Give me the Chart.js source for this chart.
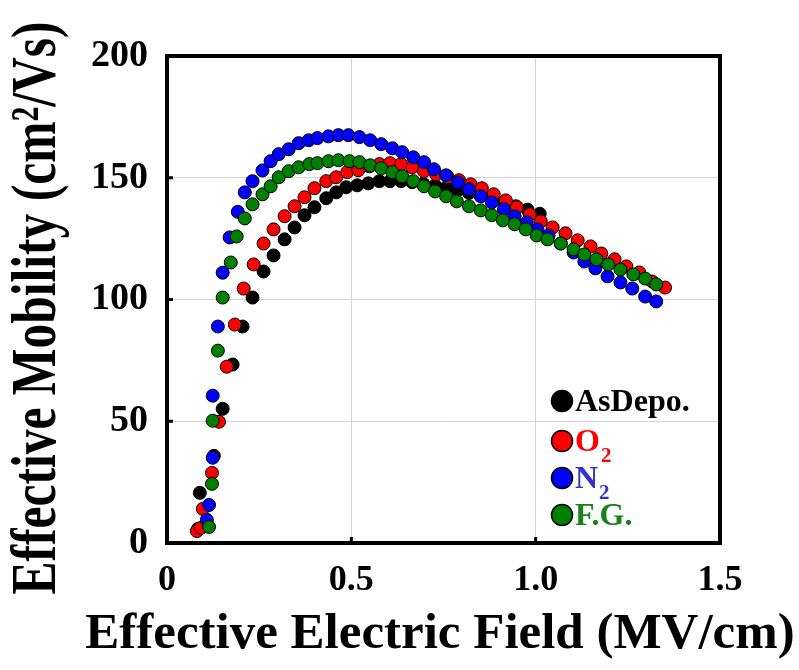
<!DOCTYPE html>
<html>
<head>
<meta charset="utf-8">
<script src="https://cdn.jsdelivr.net/npm/chart.js@4.4.1/dist/chart.umd.min.js"></script>
<style>
  html, body { margin: 0; padding: 0; background: #fff; }
  #wrap { width: 799px; height: 670px; }
</style>
</head>
<body>
<div id="wrap"><canvas id="chart"></canvas></div>
<script>
// effective field (MV/cm) and mobility (cm2/Vs) per anneal condition
var xAsDepo = [0.084, 0.089, 0.127, 0.151, 0.178, 0.205, 0.232, 0.262, 0.289, 0.319, 0.346, 0.373, 0.400, 0.432, 0.459, 0.486, 0.516, 0.546, 0.576, 0.605, 0.635, 0.665, 0.695, 0.727, 0.757, 0.789, 0.819, 0.851, 0.881, 0.914, 0.946, 0.978, 1.011];
var yAsDepo = [5.8, 20.6, 35.8, 55.1, 73.3, 88.9, 100.8, 111.5, 118.1, 124.7, 129.6, 134.6, 137.9, 141.6, 144.0, 146.1, 146.9, 147.7, 148.6, 148.6, 148.6, 148.2, 147.5, 146.8, 145.9, 145.0, 143.8, 142.6, 141.2, 139.8, 138.3, 136.9, 135.2];

var xO2 = [0.081, 0.092, 0.097, 0.122, 0.141, 0.162, 0.184, 0.208, 0.235, 0.262, 0.289, 0.319, 0.346, 0.373, 0.400, 0.432, 0.459, 0.489, 0.519, 0.549, 0.576, 0.605, 0.635, 0.665, 0.697, 0.730, 0.762, 0.792, 0.824, 0.854, 0.886, 0.919, 0.949, 0.984, 1.014, 1.046, 1.081, 1.114, 1.149, 1.178, 1.214, 1.246, 1.281, 1.316, 1.351];
var yO2 = [4.9, 6.2, 14.0, 28.8, 49.8, 72.4, 89.7, 104.5, 114.4, 123.0, 128.8, 134.2, 138.3, 142.0, 145.7, 148.6, 150.2, 152.3, 153.1, 154.7, 155.6, 156.0, 155.6, 154.3, 152.7, 151.4, 150.2, 149.0, 147.3, 145.7, 143.2, 140.7, 137.9, 135.0, 132.1, 129.6, 127.2, 124.3, 121.8, 118.9, 116.5, 113.6, 111.1, 107.4, 104.9];

var xN2 = [0.108, 0.114, 0.124, 0.124, 0.138, 0.151, 0.170, 0.192, 0.211, 0.232, 0.259, 0.281, 0.303, 0.330, 0.357, 0.384, 0.408, 0.438, 0.465, 0.492, 0.522, 0.551, 0.581, 0.611, 0.638, 0.668, 0.697, 0.724, 0.757, 0.789, 0.819, 0.851, 0.881, 0.914, 0.943, 0.976, 1.005, 1.035, 1.068, 1.103, 1.132, 1.162, 1.195, 1.230, 1.262, 1.297, 1.327];
var yN2 = [9.5, 15.6, 35.0, 60.5, 88.9, 111.0, 125.5, 136.0, 144.0, 148.6, 153.0, 156.8, 159.7, 161.7, 164.2, 165.4, 166.3, 167.0, 167.5, 167.5, 166.7, 165.4, 163.8, 162.1, 160.5, 158.4, 156.4, 153.5, 151.0, 148.1, 145.3, 142.4, 139.9, 137.1, 134.2, 131.7, 128.8, 126.3, 123.0, 119.3, 115.6, 112.8, 109.5, 107.0, 104.5, 101.2, 99.2];

var xFG = [0.114, 0.122, 0.124, 0.138, 0.151, 0.173, 0.189, 0.211, 0.232, 0.259, 0.281, 0.303, 0.330, 0.357, 0.386, 0.408, 0.438, 0.465, 0.495, 0.522, 0.551, 0.581, 0.611, 0.638, 0.668, 0.697, 0.727, 0.757, 0.786, 0.819, 0.851, 0.881, 0.911, 0.943, 0.973, 1.003, 1.032, 1.068, 1.103, 1.132, 1.165, 1.197, 1.230, 1.265, 1.297, 1.327];
var yFG = [6.6, 24.3, 50.2, 79.0, 100.8, 115.2, 125.9, 133.3, 139.1, 143.2, 146.5, 150.2, 152.7, 154.3, 155.6, 156.0, 156.8, 157.2, 156.8, 156.4, 155.1, 153.9, 152.3, 150.6, 148.6, 146.5, 144.4, 142.4, 140.3, 138.3, 136.6, 134.6, 132.5, 130.9, 128.8, 126.3, 124.7, 123.0, 120.6, 118.5, 116.5, 114.4, 112.3, 110.3, 108.6, 106.2];

var xTicks = [0, 0.5, 1.0, 1.5];
var yTicks = [0, 50, 100, 150, 200];

var xTitle = 'Effective Electric Field (MV/cm)';
var yTitle = 'Effective Mobility (cm\u00b2/Vs)';

var SERIF = '"Liberation Serif", "Times New Roman", serif';

function pts(xs, ys) {
  return xs.map(function (x, i) { return { x: x, y: ys[i] }; });
}

function series(label, xs, ys, color, order) {
  return {
    label: label,
    data: pts(xs, ys),
    backgroundColor: color,
    borderColor: '#000',
    borderWidth: 1,
    pointRadius: 6.5,
    pointHoverRadius: 6.5,
    showLine: false,
    order: order
  };
}

// legend entries: marker colour, main text, subscript, text colour
var legendItems = [
  { fill: '#000000', text: 'AsDepo.', sub: '', color: '#000000', y: 401 },
  { fill: '#ff0000', text: 'O', sub: '2', color: '#ff0000', y: 441 },
  { fill: '#0000ff', text: 'N', sub: '2', color: '#3333cc', y: 478 },
  { fill: '#008000', text: 'F.G.', sub: '', color: '#1a801a', y: 515 }
];

var framePlugin = {
  id: 'frame',
  afterDatasetsDraw: function (chart) {
    var ctx = chart.ctx, a = chart.chartArea;
    var xs = chart.scales.x, ys = chart.scales.y;
    ctx.save();
    ctx.strokeStyle = '#000';
    // inward tick marks
    ctx.lineWidth = 3;
    ctx.beginPath();
    yTicks.forEach(function (v) {
      var py = ys.getPixelForValue(v);
      ctx.moveTo(a.left, py); ctx.lineTo(a.left + 6, py);
    });
    xTicks.forEach(function (v) {
      var px = xs.getPixelForValue(v);
      ctx.moveTo(px, a.bottom); ctx.lineTo(px, a.bottom - 6);
    });
    ctx.stroke();
    ctx.lineWidth = 4;
    ctx.strokeRect(a.left, a.top, a.right - a.left, a.bottom - a.top);

    // axis titles; the y title is tall and squeezed to its length
    ctx.fillStyle = '#000';
    ctx.textAlign = 'center';
    ctx.textBaseline = 'middle';
    ctx.font = 'bold 51px ' + SERIF;
    ctx.fillText(xTitle, 440, 635);
    ctx.font = 'bold 64px ' + SERIF;
    ctx.save();
    ctx.translate(38, 308);
    ctx.rotate(-Math.PI / 2);
    ctx.fillText(yTitle, 0, 0, 573);
    ctx.restore();

    // legend in the lower right of the plot
    ctx.textBaseline = 'alphabetic';
    ctx.textAlign = 'left';
    legendItems.forEach(function (it) {
      ctx.beginPath();
      ctx.arc(562, it.y, 10.5, 0, Math.PI * 2);
      ctx.fillStyle = it.fill;
      ctx.fill();
      ctx.lineWidth = 1.5;
      ctx.strokeStyle = '#000';
      ctx.stroke();
      ctx.fillStyle = it.color;
      ctx.font = 'bold 32px ' + SERIF;
      ctx.fillText(it.text, 575, it.y + 10);
      if (it.sub) {
        var w = ctx.measureText(it.text).width;
        ctx.font = 'bold 21px ' + SERIF;
        ctx.fillText(it.sub, 575 + w + 1, it.y + 21);
      }
    });
    ctx.restore();
  }
};

var ctx = document.getElementById('chart').getContext('2d');
var myChart = new Chart(ctx, {
  type: 'scatter',
  data: {
    datasets: [
      series('AsDepo.', xAsDepo, yAsDepo, '#000000', 3),
      series('O2', xO2, yO2, '#ff0000', 2),
      series('N2', xN2, yN2, '#0000ff', 1),
      series('F.G.', xFG, yFG, '#008000', 0)
    ]
  },
  options: {
    responsive: true,
    maintainAspectRatio: false,
    animation: false,
    layout: { padding: { top: 56, right: 79, left: 0, bottom: 0 } },
    plugins: {
      legend: { display: false },
      tooltip: { enabled: false }
    },
    scales: {
      x: {
        type: 'linear',
        min: 0,
        max: 1.5,
        afterFit: function (s) { s.height = 127; },
        afterBuildTicks: function (s) { s.ticks = xTicks.map(function (v) { return { value: v }; }); },
        ticks: {
          color: '#000',
          padding: 16,
          maxRotation: 0,
          font: { family: SERIF, size: 36, weight: 'bold' },
          callback: function (v) { return v === 0 ? '0' : v.toFixed(1); }
        },
        grid: { color: '#d4d4d4', lineWidth: 1, drawTicks: false },
        border: { display: false }
      },
      y: {
        min: 0,
        max: 200,
        afterFit: function (s) { s.width = 167; },
        afterBuildTicks: function (s) { s.ticks = yTicks.map(function (v) { return { value: v }; }); },
        ticks: {
          color: '#000',
          padding: 19,
          font: { family: SERIF, size: 38, weight: 'bold' }
        },
        grid: { color: '#d4d4d4', lineWidth: 1, drawTicks: false },
        border: { display: false }
      }
    }
  },
  plugins: [framePlugin]
});
</script>
</body>
</html>
